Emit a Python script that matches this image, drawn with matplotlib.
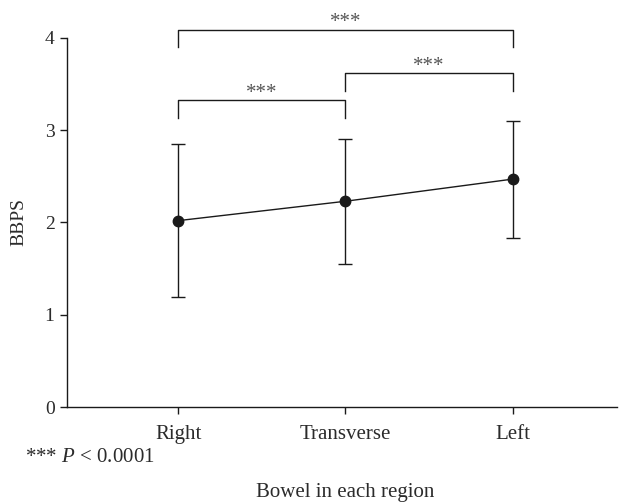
import matplotlib
matplotlib.use("Agg")
import matplotlib.pyplot as plt

categories = ["Right", "Transverse", "Left"]
means = [2.02, 2.23, 2.47]
upper = [2.85, 2.91, 3.10]
lower = [1.19, 1.555, 1.83]
y_ticks = [0, 1, 2, 3, 4]
# comparisons: (i, j, bar height, leg bottom, label)
comparisons = [(0, 2, 4.09, 3.905, "***"),
               (1, 2, 3.617, 3.42, "***"),
               (0, 1, 3.328, 3.13, "***")]

plt.rcParams['font.family'] = ['Liberation Serif', 'DejaVu Serif']
plt.rcParams['mathtext.fontset'] = 'custom'
plt.rcParams['mathtext.it'] = 'Liberation Serif:italic'
plt.rcParams['mathtext.rm'] = 'Liberation Serif'
col = "#1a1a1a"
tcol = "#2b2b2b"

fig = plt.figure(figsize=(6.21, 5.04), dpi=100)
ax = fig.add_axes([67/621, 97/504, (617-67)/621, 396.7/504])

x = list(range(len(categories)))
yerr = [[m - l for m, l in zip(means, lower)], [u - m for m, u in zip(means, upper)]]
ax.errorbar(x, means, yerr=yerr, fmt='o-', color=col, ecolor=col, lw=1.0,
            elinewidth=1.0, capsize=5, capthick=1.0, markersize=7.5, zorder=3)

for i, j, h, b, lab in comparisons:
    ax.plot([x[i], x[i], x[j], x[j]], [b, h, h, b], color=col, lw=1.0, clip_on=False)
    ax.text((x[i] + x[j]) / 2, h - 0.03, lab, ha='center', va='bottom',
            fontsize=15, color='#555555')

ax.set_xlim(-0.665, 2.625)
ax.set_ylim(0, 4.3)
ax.set_xticks(x)
ax.set_xticklabels(categories, fontsize=15, color=tcol)
ax.set_yticks(y_ticks)
ax.set_yticklabels([str(t) for t in y_ticks], fontsize=14, color=tcol)
ax.spines['top'].set_visible(False)
ax.spines['right'].set_visible(False)
ax.spines['left'].set_bounds(0, 4)
for s in ('left', 'bottom'):
    ax.spines[s].set_color(col)
    ax.spines[s].set_linewidth(1.0)
ax.tick_params(axis='both', direction='out', length=5, width=1.0, color=col, pad=4)
ax.tick_params(axis='x', pad=8)

fig.text(19/621, 1 - 222/504, "BBPS", rotation=90, ha='center', va='center',
         fontsize=14, color=tcol)
fig.text(345/621, 1 - 492/504, "Bowel in each region", ha='center', va='center',
         fontsize=15, color=tcol)
fig.text(25/621, 1 - 458/504, "*** $\\it{P}$ < 0.0001", ha='left', va='center',
         fontsize=15, color=tcol)

fig.savefig("out.png", dpi=100)
